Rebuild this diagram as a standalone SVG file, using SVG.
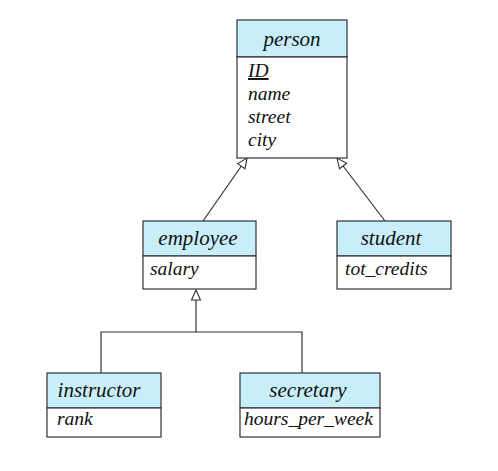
<svg xmlns="http://www.w3.org/2000/svg" width="498" height="471" viewBox="0 0 498 471">
<style>
.hd{fill:#c8eef9;stroke:#333;stroke-width:1.2}
.bd{fill:#fff;stroke:#333;stroke-width:1.2}
text{font-family:'Liberation Serif','Times New Roman','DejaVu Serif',serif;font-style:italic;fill:#111}
.n{font-size:21px;text-anchor:middle}
.a{font-size:19.5px}
.c{fill:none;stroke:#333;stroke-width:1.2}
</style>
<defs>
<marker id="tri" viewBox="0 0 12 12" refX="11" refY="6" markerWidth="12" markerHeight="12" markerUnits="userSpaceOnUse" orient="auto">
<path d="M1,1.5 L11,6 L1,10.5 Z" fill="#fff" stroke="#333" stroke-width="1.1"/>
</marker>
</defs>
<g id="connectors">
<line class="c" x1="203" y1="221" x2="247" y2="158" marker-end="url(#tri)"/>
<line class="c" x1="385" y1="221" x2="337" y2="158" marker-end="url(#tri)"/>
<polyline class="c" points="101,373 101,332 302,332 302,373"/>
<line class="c" x1="196" y1="332" x2="196" y2="290" marker-end="url(#tri)"/>
</g>
<g id="person">
<rect class="hd" x="237" y="20" width="110" height="37"/>
<rect class="bd" x="237" y="57" width="110" height="101"/>
<text class="n" x="292" y="46">person</text>
<text class="a" x="248" y="77" text-decoration="underline">ID</text>
<text class="a" x="248" y="100">name</text>
<text class="a" x="248" y="123">street</text>
<text class="a" x="248" y="146">city</text>
</g>
<g id="employee">
<rect class="hd" x="143" y="221" width="113" height="35"/>
<rect class="bd" x="143" y="256" width="113" height="33"/>
<text class="n" x="198" y="245">employee</text>
<text class="a" x="150" y="275">salary</text>
</g>
<g id="student">
<rect class="hd" x="337" y="221" width="114" height="35"/>
<rect class="bd" x="337" y="256" width="114" height="33"/>
<text class="n" x="391" y="245">student</text>
<text class="a" x="345" y="275">tot_credits</text>
</g>
<g id="instructor">
<rect class="hd" x="47" y="373" width="114" height="35"/>
<rect class="bd" x="47" y="408" width="114" height="29"/>
<text class="n" x="99" y="397">instructor</text>
<text class="a" x="57" y="425">rank</text>
</g>
<g id="secretary">
<rect class="hd" x="240" y="373" width="140" height="35"/>
<rect class="bd" x="240" y="408" width="140" height="29"/>
<text class="n" x="308" y="397">secretary</text>
<text class="a" x="244" y="425">hours_per_week</text>
</g>
</svg>
